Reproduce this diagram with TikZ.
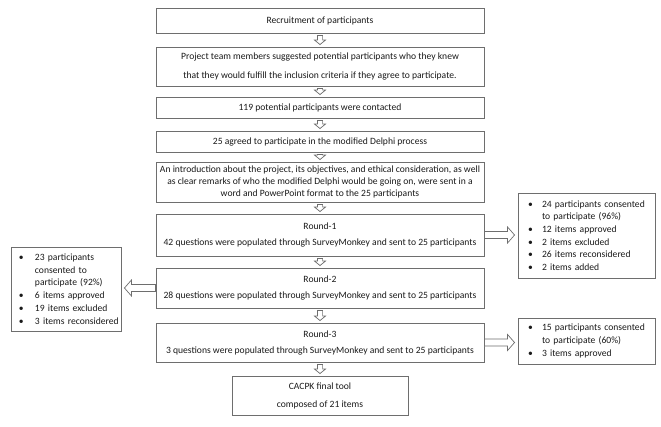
\documentclass[tikz,border=0pt]{standalone}
\usepackage{fontspec}
\setmainfont{Carlito}
\usetikzlibrary{calc}
\definecolor{edgegray}{HTML}{6E6E6E}
\definecolor{inkc}{HTML}{1A1A1A}
\newcommand\bulA[1]{\mbox{\hspace*{8pt}\makebox[16pt][l]{\textbullet}#1}}
\newcommand\contA[1]{\mbox{\hspace*{24pt}#1}}
\newcommand\bulB[1]{\mbox{\hspace*{10pt}\makebox[14pt][l]{\textbullet}#1}}
\newcommand\contB[1]{\mbox{\hspace*{24pt}#1}}
\tikzset{
  mainbox/.style={draw=edgegray, line width=0.9pt, fill=white, minimum width=328pt, align=center, inner sep=0pt, text=inkc},
  listbox/.style={draw=edgegray, line width=0.9pt, fill=white, align=left, inner sep=0pt, text=inkc, font=\fontsize{9.6}{12.7}\selectfont},
  barrow/.style n args={5}{draw=edgegray, fill=white, line width=0.7pt, line join=miter,
    to path={
      ($(\tikztostart)!#3!(\tikztotarget)!#1!90:(\tikztotarget)$)
      -- ($(\tikztotarget)!#5!(\tikztostart)!#1!90:(\tikztotarget)$)
      -- ($(\tikztotarget)!#5!(\tikztostart)!#2!90:(\tikztotarget)$)
      -- ($(\tikztotarget)!#4!(\tikztostart)$)
      -- ($(\tikztotarget)!#5!(\tikztostart)!#2!-90:(\tikztotarget)$)
      -- ($(\tikztotarget)!#5!(\tikztostart)!#1!-90:(\tikztotarget)$)
      -- ($(\tikztostart)!#3!(\tikztotarget)!#1!-90:(\tikztotarget)$)
      -- cycle}},
  downarrow/.style={barrow={2.6pt}{5.5pt}{2pt}{2pt}{6.5pt}},
  sidearrow/.style={barrow={3.5pt}{8pt}{0pt}{3pt}{10pt}},
}
\begin{document}
\begin{tikzpicture}[x=1pt,y=-1pt, font=\fontsize{9.6}{12.6}\selectfont]
\useasboundingbox[fill=white] (0,0) rectangle (661,426);

\node[mainbox, minimum height=25pt] (n1) at (320,20.5) {Recruitment of participants};
\node[mainbox, minimum height=39pt, font=\fontsize{9.6}{19.5}\selectfont] (n2) at (320,66.5)
  {Project team members suggested potential participants who they knew\\that they would fulfill the inclusion criteria if they agree to participate.};
\node[mainbox, minimum height=21pt] (n3) at (320,107.5) {119 potential participants were contacted};
\node[mainbox, minimum height=21pt] (n4) at (320,141.5) {25 agreed to participate in the modified Delphi process};
\node[mainbox, minimum height=40pt, font=\fontsize{9.6}{11.6}\selectfont] (n5) at (320,182)
  {An introduction about the project, its objectives, and ethical consideration, as well\\as clear remarks of who the modified Delphi would be going on, were sent in a\\word and PowerPoint format to the 25 participants};
\node[mainbox, minimum height=42pt, font=\fontsize{9.6}{16}\selectfont] (n6) at (320,235)
  {Round-1\\42 questions were populated through SurveyMonkey and sent to 25 participants};
\node[mainbox, minimum height=40pt, font=\fontsize{9.6}{16}\selectfont] (n7) at (320,288)
  {Round-2\\28 questions were populated through SurveyMonkey and sent to 25 participants};
\node[mainbox, minimum height=39pt, font=\fontsize{9.6}{16}\selectfont] (n8) at (320,342.5)
  {Round-3\\3 questions were populated through SurveyMonkey and sent to 25 participants};
\node[mainbox, minimum width=176pt, minimum height=39pt, font=\fontsize{9.6}{18}\selectfont] (n9) at (320,395.5)
  {CACPK final tool\\composed of 21 items};

\node[listbox, minimum width=110pt, minimum height=84pt, text width=110pt] (L) at (66,289)
  {\bulA{23 participants}\\
   \contA{consented to}\\
   \contA{participate (92\%)}\\
   \bulA{6 items approved}\\
   \bulA{19 items excluded}\\
   \bulA{3 items reconsidered}};
\node[listbox, minimum width=137pt, minimum height=85pt, text width=137pt] (R1) at (586.5,235.5)
  {\bulB{24 participants consented}\\
   \contB{to participate (96\%)}\\
   \bulB{12 items approved}\\
   \bulB{2 items excluded}\\
   \bulB{26 items reconsidered}\\
   \bulB{2 items added}};
\node[listbox, minimum width=137pt, minimum height=46pt, text width=137pt] (R2) at (586.5,341)
  {\bulB{15 participants consented}\\
   \contB{to participate (60\%)}\\
   \bulB{3 items approved}};

\coordinate (a1) at (n6.east -| R1.west);
\coordinate (a2) at (n7.west -| L.east);
\coordinate (a3) at (n8.east -| R2.west);

\draw[downarrow] (n1.south) to (n2.north);
\draw[downarrow] (n2.south) to (n3.north);
\draw[downarrow] (n3.south) to (n4.north);
\draw[downarrow] (n4.south) to (n5.north);
\draw[downarrow] (n5.south) to (n6.north);
\draw[downarrow] (n6.south) to (n7.north);
\draw[downarrow] (n7.south) to (n8.north);
\draw[downarrow] (n8.south) to (n9.north);

\draw[sidearrow] (n6.east) to (a1);
\draw[sidearrow] (n7.west) to (a2);
\draw[sidearrow] (n8.east) to (a3);
\end{tikzpicture}
\end{document}
